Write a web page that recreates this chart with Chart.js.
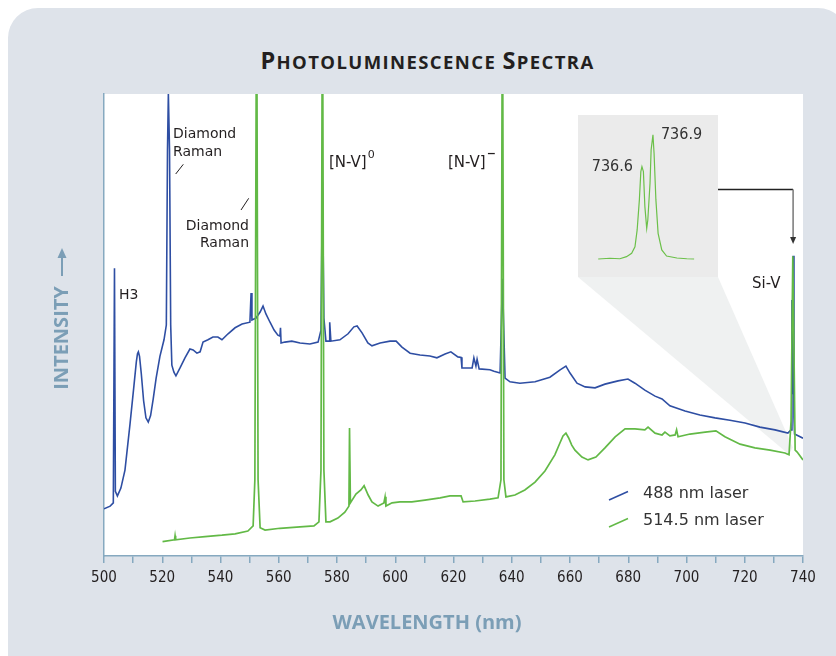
<!DOCTYPE html>
<html>
<head>
<meta charset="utf-8">
<script src="https://cdn.jsdelivr.net/npm/chart.js@4.4.0/dist/chart.umd.min.js"></script>
<style>
  body { margin: 0; background: #fff; width: 836px; height: 656px; overflow: hidden; position: relative; }
  #panel { position: absolute; left: 8px; top: 8px; width: 840px; height: 700px; background: #dee3ea; border-radius: 30px; }
  #title { position: absolute; left: 0; width: 855px; top: 45px; text-align: center; font-family: 'Open Sans'; font-weight: bold; font-size: 18.5px; line-height: 30px; letter-spacing: 1.4px; color: #231f20; white-space: nowrap; }
  #title .cap { font-size: 23.5px; }
  #main { position: absolute; left: 0; top: 0; }
  #inset { position: absolute; left: 578px; top: 115px; background: #ebebeb; }
</style>
</head>
<body>
<div id="panel"></div>
<div id="title"><span class="cap">P</span>HOTOLUMINESCENCE <span class="cap">S</span>PECTRA</div>
<canvas id="main" width="836" height="656"></canvas>
<canvas id="inset" width="140" height="162"></canvas>
<script>
// wavelength (nm), intensity (arb. units, 0-100 = plot height)
var spectrum488 = [
  [500.0, 10.2], [502.1, 10.8], [503.2, 11.5], [503.6, 62.3], [503.9, 14.0],
  [504.6, 13.0], [505.8, 14.7], [507.2, 18.6], [508.9, 28.4], [510.3, 37.0],
  [511.1, 42.0], [511.5, 43.8], [511.8, 44.2], [512.2, 43.2], [512.8, 39.5], [513.6, 33.6],
  [514.4, 29.9], [515.2, 29.0], [516.0, 30.4], [516.9, 34.0], [517.9, 38.5], [519.2, 43.2],
  [520.6, 46.8], [521.4, 50.0], [521.8, 87.9], [522.1, 100], [522.5, 87.9], [522.9, 50.0],
  [523.3, 41.3], [524.0, 39.8], [524.7, 39.0], [526.1, 40.7], [527.8, 42.9], [529.5, 44.8],
  [530.6, 44.6], [531.9, 43.9], [533.0, 44.2], [534.0, 46.3], [535.7, 46.8], [537.4, 47.4],
  [539.1, 47.4], [540.5, 46.8], [542.6, 48.1], [545.0, 49.4], [547.4, 50.2], [550.1, 50.6],
  [550.5, 56.9], [550.8, 51.1], [552.2, 51.5], [553.6, 52.8], [554.6, 54.1], [555.6, 52.4],
  [557.0, 50.6], [558.4, 48.9], [559.7, 47.8], [560.4, 47.6], [560.6, 49.4], [560.8, 46.1],
  [562.1, 46.3], [564.5, 46.5], [567.3, 46.1], [570.7, 45.9], [573.5, 46.3], [574.5, 48.9],
  [575.0, 81.0], [575.5, 51.5], [576.2, 46.5], [577.3, 46.5], [577.5, 50.6], [577.9, 46.5],
  [581.0, 46.8], [583.8, 48.1], [585.8, 49.6], [586.9, 49.8], [588.6, 48.3], [590.6, 46.1],
  [592.0, 45.5], [594.8, 46.1], [598.2, 46.5], [600.3, 46.5], [602.3, 45.2], [605.1, 43.9],
  [608.5, 43.5], [611.9, 43.3], [614.3, 42.9], [617.1, 43.7], [619.1, 44.2], [621.5, 43.1],
  [622.6, 43.0], [622.9, 40.7], [626.4, 40.7], [627.0, 42.9], [627.7, 41.1], [628.1, 42.6],
  [628.8, 40.5], [632.5, 40.3], [633.9, 40.0], [636.0, 39.6], [636.8, 60.0], [637.7, 38.5],
  [639.4, 37.7], [642.8, 37.4], [648.0, 37.7], [653.1, 38.7], [656.6, 40.3], [658.6, 41.1],
  [660.0, 39.6], [662.4, 37.4], [665.2, 36.6], [668.6, 36.4], [672.0, 37.2], [676.5, 37.9],
  [679.9, 38.3], [682.3, 37.4], [685.7, 35.9], [689.2, 34.6], [691.6, 34.0], [694.3, 32.5],
  [699.5, 31.4], [704.6, 30.5], [709.8, 29.9], [714.9, 29.4], [720.1, 28.8], [725.2, 27.9],
  [730.4, 27.3], [734.8, 26.6], [735.9, 27.3], [736.2, 55.4], [736.4, 35.0], [736.6, 65.0],
  [736.9, 30.0], [737.1, 26.4], [740.0, 25.5]
];

var spectrum5145 = [
  [520.1, 3.1], [524.2, 3.5], [524.4, 4.4], [524.6, 3.5], [529.5, 3.9], [534.7, 4.2],
  [540.5, 4.5], [545.0, 4.8], [549.4, 5.4], [551.2, 6.5], [551.8, 16.5], [552.4, 130],
  [552.9, 16.5], [553.6, 6.1], [555.3, 5.6], [560.4, 6.0], [567.3, 6.3], [572.1, 6.5],
  [573.8, 7.4], [574.5, 18.6], [575.0, 130], [575.5, 18.6], [576.2, 7.4], [577.6, 7.4],
  [580.3, 8.2], [582.7, 9.5], [584.1, 10.8], [584.3, 27.7], [584.6, 11.5], [586.5, 13.4],
  [588.2, 14.3], [589.3, 15.2], [590.7, 13.2], [592.0, 11.7], [594.1, 10.8], [596.1, 11.5],
  [596.5, 12.8], [596.8, 10.8], [598.9, 11.5], [601.6, 11.7], [605.7, 11.7], [610.2, 12.1],
  [615.4, 12.6], [618.8, 13.0], [622.6, 13.0], [623.3, 11.7], [627.4, 11.9], [632.5, 12.3],
  [635.3, 12.6], [636.3, 16.5], [636.8, 130], [637.3, 16.5], [638.0, 12.8], [641.1, 13.2],
  [644.5, 14.3], [648.0, 16.0], [651.4, 18.4], [654.8, 21.9], [656.5, 24.4], [657.6, 26.0],
  [658.6, 26.6], [659.5, 25.6], [660.6, 24.0], [661.7, 22.9], [664.1, 21.4], [666.2, 20.8],
  [668.9, 21.4], [672.0, 23.4], [675.5, 25.8], [678.9, 27.5], [682.3, 27.5], [685.7, 27.3],
  [686.8, 27.9], [689.2, 26.6], [691.6, 26.2], [692.6, 26.8], [694.3, 26.0], [696.1, 26.2],
  [696.6, 27.3], [697.1, 25.8], [701.2, 26.4], [706.4, 26.8], [710.1, 27.1], [713.2, 25.8],
  [718.4, 24.2], [723.5, 23.4], [728.7, 22.9], [733.8, 22.3], [735.2, 21.9], [735.9, 29.2],
  [736.5, 64.9], [736.9, 44.6], [737.3, 22.9], [738.0, 22.5], [740.0, 20.8]
];

// Si-V doublet, zoomed
var spectrumSiV = [
  [735.41, 0.0], [735.73, 0.6], [736.00, 0.2], [736.18, 1.9], [736.32, 4.6], [736.41, 9.9],
  [736.47, 23.4], [736.53, 47.6], [736.57, 70.4], [736.60, 74.4], [736.64, 70.4], [736.68, 42.2],
  [736.73, 24.7], [736.76, 31.4], [736.82, 61.0], [736.85, 87.9], [736.90, 100], [736.93, 85.2],
  [736.98, 47.6], [737.04, 20.7], [737.14, 7.3], [737.27, 2.4], [737.55, 0.8], [737.82, 0.2],
  [738.02, 0.0]
];
var siVPeaks = [[736.6, 74.4], [736.9, 100]];

var seriesNames = ['488 nm laser', '514.5 nm laser'];
var xTicks = [500, 520, 540, 560, 580, 600, 620, 640, 660, 680, 700, 720, 740];

var BLUE = '#2e4ea3';
var GREEN = '#62b946';
var STEEL = '#7b9eb6';
var AXIS = '#86a9c0';
var INK = '#231f20';
var SANS = "'DejaVu Sans', Verdana, sans-serif";
var NARROW = "'Liberation Sans Narrow', 'DejaVu Sans Condensed', sans-serif";

function toPoints(pairs) {
  return pairs.map(function(p) { return { x: p[0], y: p[1] }; });
}

function line(ctx, x1, y1, x2, y2, color, width) {
  ctx.beginPath();
  ctx.moveTo(x1, y1);
  ctx.lineTo(x2, y2);
  ctx.strokeStyle = color;
  ctx.lineWidth = width;
  ctx.stroke();
}

function text(ctx, str, x, y, font, align, color) {
  ctx.font = font;
  ctx.textAlign = align || 'left';
  ctx.textBaseline = 'middle';
  ctx.fillStyle = color || INK;
  ctx.fillText(str, x, y);
}

var decor = {
  id: 'decor',
  beforeDraw: function(chart) {
    var a = chart.chartArea, ctx = chart.ctx;
    ctx.save();
    ctx.fillStyle = '#fff';
    ctx.fillRect(a.left, a.top, a.right - a.left, a.bottom - a.top);
    ctx.restore();
  },
  beforeDatasetsDraw: function(chart) {
    // callout wedge from the inset down to the Si-V line
    var ctx = chart.ctx, xs = chart.scales.x, ys = chart.scales.y;
    var tipX = xs.getPixelForValue(736.5);
    ctx.save();
    ctx.beginPath();
    ctx.moveTo(578, 277);
    ctx.lineTo(718, 277);
    ctx.lineTo(tipX, ys.getPixelForValue(23.5));
    ctx.lineTo(tipX - 4, ys.getPixelForValue(22));
    ctx.closePath();
    ctx.fillStyle = '#eff1f1';
    ctx.fill();
    ctx.restore();
  },
  afterDraw: function(chart) {
    var ctx = chart.ctx, xs = chart.scales.x;
    var f14 = '14px ' + SANS, f15 = '15px ' + SANS;
    ctx.save();

    text(ctx, 'Diamond', 173, 134, f14);
    text(ctx, 'Raman', 173, 152, f14);
    line(ctx, 175.7, 174, 183.3, 164.3, INK, 1);

    line(ctx, 241, 210, 248.7, 198.3, INK, 1);
    text(ctx, 'Diamond', 249, 226, f14, 'right');
    text(ctx, 'Raman', 249, 243, f14, 'right');

    text(ctx, 'H3', 119, 295, f14);

    text(ctx, '[N-V]', 329, 163, f15);
    ctx.font = f15;
    var w = ctx.measureText('[N-V]').width;
    text(ctx, '0', 329 + w + 1, 155, '11px ' + SANS);
    text(ctx, '[N-V]', 448, 163, f15);
    text(ctx, '\u2212', 448 + w + 1, 154, 'bold 11px ' + SANS);

    text(ctx, 'Si-V', 752, 284, f15);

    // pointer from the inset to the Si-V peak
    var px = xs.getPixelForValue(736.6);
    line(ctx, 718, 189.5, px, 189.5, '#222', 1.5);
    line(ctx, px, 189.5, px, 238, '#777', 1.5);
    ctx.beginPath();
    ctx.moveTo(px - 3, 237);
    ctx.lineTo(px + 3, 237);
    ctx.lineTo(px, 244);
    ctx.closePath();
    ctx.fillStyle = '#333';
    ctx.fill();

    // legend
    line(ctx, 609, 500, 628, 491.5, BLUE, 1.5);
    text(ctx, seriesNames[0], 643, 494, '16px ' + SANS, 'left', '#333');
    line(ctx, 609, 527, 628, 518.5, GREEN, 1.5);
    text(ctx, seriesNames[1], 643, 521, '16px ' + SANS, 'left', '#333');

    // axis titles
    text(ctx, 'WAVELENGTH (nm)', 427, 623, "bold 20px 'Open Sans'", 'center', STEEL);
    ctx.save();
    ctx.translate(62, 338);
    ctx.rotate(-Math.PI / 2);
    text(ctx, 'INTENSITY', 0, 0, "bold 20px 'Open Sans'", 'center', STEEL);
    ctx.restore();
    line(ctx, 62, 276, 62, 256, STEEL, 2);
    ctx.beginPath();
    ctx.moveTo(57.5, 258);
    ctx.lineTo(66.5, 258);
    ctx.lineTo(62, 248);
    ctx.closePath();
    ctx.fillStyle = STEEL;
    ctx.fill();

    ctx.restore();
  }
};

new Chart(document.getElementById('main'), {
  type: 'line',
  data: {
    datasets: [
      { label: seriesNames[0], data: toPoints(spectrum488), borderColor: BLUE, borderWidth: 1.6, pointRadius: 0, order: 1 },
      { label: seriesNames[1], data: toPoints(spectrum5145), borderColor: GREEN, borderWidth: 1.7, pointRadius: 0, order: 0 }
    ]
  },
  options: {
    responsive: false,
    animation: false,
    events: [],
    layout: { padding: { left: 0, top: 94, right: 33, bottom: 0 } },
    plugins: { legend: { display: false }, tooltip: { enabled: false } },
    scales: {
      x: {
        type: 'linear',
        min: 500,
        max: 740,
        afterFit: function(scale) { scale.height = 100; },
        ticks: {
          stepSize: 10,
          autoSkip: false,
          maxRotation: 0,
          padding: 6,
          color: INK,
          font: { family: NARROW, size: 15 },
          callback: function(v) { return xTicks.indexOf(v) >= 0 ? String(v) : ''; }
        },
        grid: { drawOnChartArea: false, tickLength: 7, color: AXIS, lineWidth: 1.5 },
        border: { color: AXIS, width: 1.5 }
      },
      y: {
        min: 0,
        max: 100,
        afterFit: function(scale) { scale.width = 104; },
        ticks: { display: false },
        grid: { display: false },
        border: { color: AXIS, width: 1.5 }
      }
    }
  },
  plugins: [decor]
});

var insetLabels = {
  id: 'insetLabels',
  afterDraw: function(chart) {
    var ctx = chart.ctx, xs = chart.scales.x, ys = chart.scales.y;
    var font = '16px ' + NARROW;
    var p1 = siVPeaks[0], p2 = siVPeaks[1];
    text(ctx, p1[0].toFixed(1), xs.getPixelForValue(p1[0]) - 9, ys.getPixelForValue(p1[1]), font, 'right', '#333');
    text(ctx, p2[0].toFixed(1), xs.getPixelForValue(p2[0]) + 8, ys.getPixelForValue(p2[1]), font, 'left', '#333');
  }
};

new Chart(document.getElementById('inset'), {
  type: 'line',
  data: {
    datasets: [
      { data: toPoints(spectrumSiV), borderColor: '#6cc04a', borderWidth: 1.2, pointRadius: 0 }
    ]
  },
  options: {
    responsive: false,
    animation: false,
    events: [],
    layout: { padding: 0 },
    plugins: { legend: { display: false }, tooltip: { enabled: false } },
    scales: {
      x: { type: 'linear', min: 734.86, max: 738.67, display: false },
      y: { min: -14.5, max: 116, display: false }
    }
  },
  plugins: [insetLabels]
});
</script>
</body>
</html>
